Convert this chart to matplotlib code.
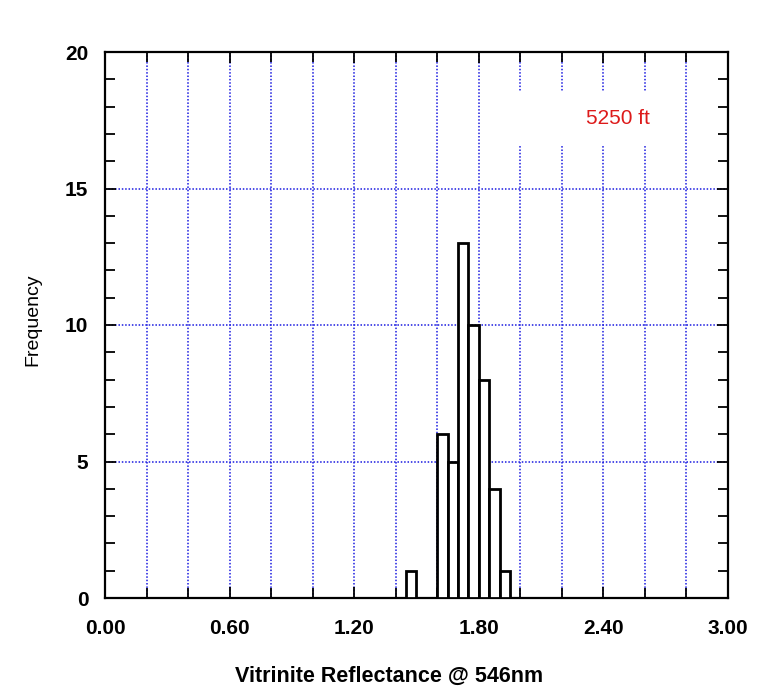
import matplotlib
matplotlib.use('Agg')
import matplotlib.pyplot as plt
from matplotlib.patches import Rectangle
from matplotlib.ticker import MultipleLocator, FixedLocator

# --- Data ---
bin_left = [1.45, 1.60, 1.65, 1.70, 1.75, 1.80, 1.85, 1.90]
counts = [1, 6, 5, 13, 10, 8, 4, 1]
bin_width = 0.05
x_labels = ['0.00', '0.60', '1.20', '1.80', '2.40', '3.00']
x_label_pos = [0.0, 0.6, 1.2, 1.8, 2.4, 3.0]
depth_label = '5250 ft'

plt.rcParams['font.family'] = ['Liberation Sans', 'DejaVu Sans']

fig = plt.figure(figsize=(7.7, 6.86), dpi=100)
ax = fig.add_axes([105 / 770, 88 / 686, 623 / 770, 546 / 686])

ax.bar(bin_left, counts, width=bin_width, align='edge', color='white',
       edgecolor='black', linewidth=2.0, zorder=3)

ax.set_xlim(0, 3.0)
ax.set_ylim(0, 20)

# --- Grid ---
grid_style = dict(color='#1a1ae0', linestyle=(0, (1, 1.2)), linewidth=1.1)
ax.xaxis.set_minor_locator(MultipleLocator(0.2))
ax.xaxis.set_major_locator(FixedLocator(x_label_pos))
ax.set_xticklabels(x_labels)
ax.yaxis.set_major_locator(MultipleLocator(5))
ax.yaxis.set_minor_locator(MultipleLocator(1))
ax.grid(True, which='major', axis='y', **grid_style)
ax.grid(True, which='both', axis='x', **grid_style)
ax.set_axisbelow(True)

ax.tick_params(which='both', direction='in', top=True, right=True, width=1.3,
               labelsize=15)
ax.tick_params(which='major', length=8)
ax.tick_params(which='minor', length=7)
ax.tick_params(axis='x', which='major', pad=15)
ax.tick_params(axis='y', which='major', pad=12)
for lbl in ax.get_xticklabels() + ax.get_yticklabels():
    lbl.set_fontweight('bold')

for sp in ax.spines.values():
    sp.set_linewidth(1.6)

# --- Label box ---
ax.add_patch(Rectangle((1.97, 16.6), 0.79, 1.95, facecolor='white',
                       edgecolor='none', zorder=2))
ax.text(2.47, 17.55, depth_label, color='#dd1a1a', fontsize=15,
        ha='center', va='center', zorder=4)

fig.text(389 / 770, 1 - 676 / 686, 'Vitrinite Reflectance @ 546nm',
         fontsize=15.5, fontweight='bold', ha='center', va='center')
fig.text(33 / 770, 1 - 320 / 686, 'Frequency', fontsize=14, rotation=90,
         ha='center', va='center')

fig.savefig('out.png', dpi=100)
